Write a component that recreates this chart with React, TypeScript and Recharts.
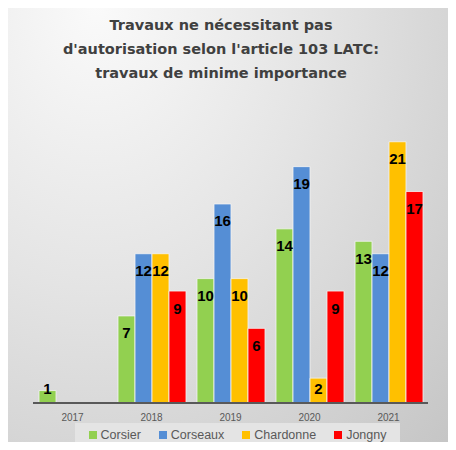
import { Bar, BarChart, LabelList, Legend, XAxis, YAxis } from 'recharts';

const YEARS = ['2017', '2018', '2019', '2020', '2021'];
const CORSIER = [1, 7, 10, 14, 13];
const CORSEAUX = [null, 12, 16, 19, 12];
const CHARDONNE = [null, 12, 10, 2, 21];
const JONGNY = [null, 9, 6, 9, 17];

const SERIES = [
  { key: 'corsier', name: 'Corsier', color: '#92d050' },
  { key: 'corseaux', name: 'Corseaux', color: '#558ed5' },
  { key: 'chardonne', name: 'Chardonne', color: '#ffc000' },
  { key: 'jongny', name: 'Jongny', color: '#ff0000' },
];

const data = YEARS.map((year, i) => ({
  year,
  corsier: CORSIER[i],
  corseaux: CORSEAUX[i],
  chardonne: CHARDONNE[i],
  jongny: JONGNY[i],
}));

const FONT = '"Liberation Sans", Arial, sans-serif';

// inside end, but never lower than a fixed distance above the axis (like Excel does for short bars)
function BarValue(props: any) {
  const { x, y, width, height, value } = props;
  if (value == null) return null;
  const base = y + height;
  const cy = Math.min(y + 17, base - 15);
  return (
    <text x={x + width / 2} y={cy} textAnchor="middle" dominantBaseline="central" fill="#000" fontSize={15} fontWeight="bold" fontFamily={FONT}>
      {value}
    </text>
  );
}

function LegendBox() {
  return (
    <div
      style={{
        display: 'flex',
        justifyContent: 'center',
        gap: 18,
        background: '#e4e4e4',
        width: 325,
        height: 24,
        alignItems: 'center',
        marginLeft: 75,
        fontFamily: FONT,
        fontSize: 12.5,
        color: '#595959',
      }}
    >
      {SERIES.map((s) => (
        <div key={s.key} style={{ display: 'flex', alignItems: 'center', gap: 4 }}>
          <span style={{ width: 8, height: 8, background: s.color, display: 'inline-block' }} />
          <span>{s.name}</span>
        </div>
      ))}
    </div>
  );
}

export default function App() {
  return (
    <div style={{ position: 'relative', width: 456, height: 450, margin: -8, background: '#fff', overflow: 'hidden' }}>
      <div
        style={{
          position: 'absolute',
          left: 7,
          top: 6,
          width: 443,
          height: 444,
          background: 'radial-gradient(ellipse at 20% 0%, #fafafa 0%, #e4e4e4 45%, #c5c5c5 100%)',
          borderRight: '1px solid #c0c0c0',
        }}
      />
      <div
        style={{
          position: 'absolute',
          left: 0,
          top: 13,
          width: 442,
          textAlign: 'center',
          fontFamily: '"DejaVu Sans", Verdana, sans-serif',
          fontWeight: 'bold',
          fontSize: 14.5,
          lineHeight: '24px',
          color: '#404040',
        }}
      >
        Travaux ne nécessitant pas
        <br />
        d'autorisation selon l'article 103 LATC:
        <br />
        travaux de minime importance
      </div>
      <div style={{ position: 'absolute', left: 0, top: 0 }}>
        <BarChart
          width={456}
          height={450}
          data={data}
          margin={{ top: 92, right: 28, left: 33, bottom: 0 }}
          barCategoryGap={6}
          barGap={0}
        >
          <XAxis
            dataKey="year"
            tickLine={false}
            axisLine={{ stroke: '#595959', strokeWidth: 2 }}
            tick={{ fill: '#595959', fontSize: 10, fontFamily: FONT }}
            tickMargin={5}
            height={20}
          />
          <YAxis hide domain={[0, 25]} />
          <Legend
            verticalAlign="bottom"
            height={27}
            wrapperStyle={{ left: 0, width: 456 }}
            content={() => <LegendBox />}
          />
          {SERIES.map((s) => (
            <Bar key={s.key} dataKey={s.key} name={s.name} fill={s.color} stroke="#f4f4f4" strokeWidth={0.8} isAnimationActive={false}>
              <LabelList dataKey={s.key} content={<BarValue />} />
            </Bar>
          ))}
        </BarChart>
      </div>
    </div>
  );
}
